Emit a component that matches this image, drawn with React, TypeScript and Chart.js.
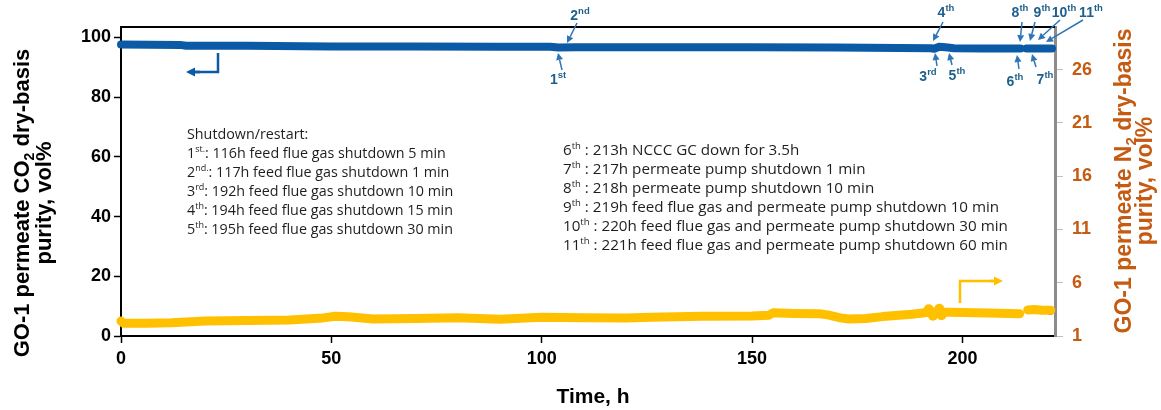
import React, { useEffect, useRef } from "react";
import { Chart, registerables } from "chart.js";
Chart.register(...registerables);

// ---------- data ----------
const co2Time = [0, 14, 15.5, 30, 50, 70, 90, 102, 104, 108, 130, 150, 170, 185, 192.5, 193.3, 194.5, 196, 198, 205, 213.8, 214.5, 215.2, 218, 221.3];
const co2Purity = [97.6, 97.5, 97.2, 97.2, 97.0, 97.0, 96.9, 96.9, 96.6, 96.7, 96.7, 96.7, 96.6, 96.5, 96.4, 96.2, 96.9, 96.7, 96.4, 96.3, 96.3, null, 96.3, 96.3, 96.3];

const n2Time = [0, 0.6, 6, 12, 20, 30, 40, 48, 51, 54, 60, 70, 80, 90, 100, 110, 120, 126, 138, 150, 154, 155, 160, 166, 168, 171, 173, 177, 181, 188, 192, 194, 200, 206, 213.6, 214.5, 215.5, 217, 219, 221];
const n2Purity = [2.4, 2.2, 2.2, 2.25, 2.4, 2.45, 2.5, 2.7, 2.85, 2.8, 2.6, 2.65, 2.72, 2.58, 2.75, 2.72, 2.7, 2.75, 2.85, 2.88, 2.95, 3.18, 3.12, 3.08, 2.98, 2.7, 2.6, 2.65, 2.82, 3.05, 3.22, 3.25, 3.2, 3.15, 3.08, null, 3.45, 3.48, 3.42, 3.42];

const n2BlobTime = [192, 193, 194.5, 195];
const n2BlobValue = [3.5, 2.9, 3.55, 2.95];

const n2DotTime = [0, 192.8, 193.8, 213.6, 217.5, 220.8, 220.9];
const n2DotValue = [2.5, 3.4, 3.35, 3.08, 3.35, 3.5, 3.25];

const xTicks = [0, 50, 100, 150, 200];
const leftTicks = [0, 20, 40, 60, 80, 100];
const rightTicks = [1, 6, 11, 16, 21, 26];

const notesLeftTitle = "Shutdown/restart:";
const notesLeft: [string, string, string][] = [
  ["1", "st.", ": 116h feed flue gas shutdown 5 min"],
  ["2", "nd.", ": 117h feed flue gas shutdown 1 min"],
  ["3", "rd", ": 192h feed flue gas shutdown 10 min"],
  ["4", "th", ": 194h feed flue gas shutdown 15 min"],
  ["5", "th", ": 195h feed flue gas shutdown 30 min"],
];
const notesRight: [string, string, string][] = [
  ["6", "th", " : 213h NCCC GC down for 3.5h"],
  ["7", "th", " : 217h permeate pump shutdown 1 min"],
  ["8", "th", " : 218h permeate pump shutdown 10 min"],
  ["9", "th", " : 219h feed flue gas and permeate pump shutdown 10 min"],
  ["10", "th", " : 220h feed flue gas and permeate pump shutdown 30 min"],
  ["11", "th", " : 221h feed flue gas and permeate pump shutdown 60 min"],
];

// event callouts: label number, suffix, label pos, arrow tail, arrow tip (pixels)
const callouts: { n: string; s: string; lx: number; ly: number; tx: number; ty: number; hx: number; hy: number }[] = [
  { n: "1", s: "st", lx: 558, ly: 80, tx: 562, ty: 70, hx: 558, hy: 53 },
  { n: "2", s: "nd", lx: 580, ly: 16, tx: 577, ty: 23, hx: 567, hy: 43 },
  { n: "3", s: "rd", lx: 928, ly: 77, tx: 937, ty: 66, hx: 935, hy: 53 },
  { n: "4", s: "th", lx: 946, ly: 13, tx: 943, ty: 22, hx: 933, hy: 41 },
  { n: "5", s: "th", lx: 957, ly: 76, tx: 952, ty: 65, hx: 949, hy: 53 },
  { n: "6", s: "th", lx: 1015, ly: 82, tx: 1019, ty: 69, hx: 1017, hy: 55 },
  { n: "7", s: "th", lx: 1045, ly: 80, tx: 1036, ty: 67, hx: 1032, hy: 54 },
  { n: "8", s: "th", lx: 1020, ly: 13, tx: 1022, ty: 22, hx: 1020, hy: 42 },
  { n: "9", s: "th", lx: 1042, ly: 13, tx: 1035, ty: 22, hx: 1030, hy: 41 },
  { n: "10", s: "th", lx: 1064, ly: 13, tx: 1060, ty: 20, hx: 1038, hy: 40 },
  { n: "11", s: "th", lx: 1091, ly: 13, tx: 1083, ty: 20, hx: 1046, hy: 42 },
];

const BLUE = "#0B5AA6";
const YELLOW = "#FFC000";
const DARK_ORANGE = "#C55A11";
const LABEL_BLUE = "#1F5F8C";
const ARROW_BLUE = "#2E75B6";
const AXIS_FONT = "'Liberation Sans', Arial, sans-serif";
const NOTE_FONT = "'Open Sans', 'Noto Sans', sans-serif";

function arrow(ctx: CanvasRenderingContext2D, x1: number, y1: number, x2: number, y2: number, color: string, w: number, head: number) {
  const ang = Math.atan2(y2 - y1, x2 - x1);
  const bx = x2 - head * Math.cos(ang);
  const by = y2 - head * Math.sin(ang);
  ctx.save();
  ctx.strokeStyle = color;
  ctx.fillStyle = color;
  ctx.lineWidth = w;
  ctx.beginPath();
  ctx.moveTo(x1, y1);
  ctx.lineTo(bx, by);
  ctx.stroke();
  const hw = head * 0.5;
  ctx.beginPath();
  ctx.moveTo(x2, y2);
  ctx.lineTo(bx - hw * Math.sin(ang), by + hw * Math.cos(ang));
  ctx.lineTo(bx + hw * Math.sin(ang), by - hw * Math.cos(ang));
  ctx.closePath();
  ctx.fill();
  ctx.restore();
}

function supText(ctx: CanvasRenderingContext2D, x: number, y: number, base: string, sup: string, rest: string, size: number, supSize: number, weight: string, family: string, color: string, align: "left" | "center") {
  ctx.save();
  ctx.fillStyle = color;
  ctx.textBaseline = "middle";
  ctx.textAlign = "left";
  const f1 = `${weight} ${size}px ${family}`;
  const f2 = `${weight} ${supSize}px ${family}`;
  ctx.font = f1;
  const w1 = ctx.measureText(base).width;
  const w3 = ctx.measureText(rest).width;
  ctx.font = f2;
  const w2 = ctx.measureText(sup).width;
  let sx = align === "center" ? x - (w1 + w2 + w3) / 2 : x;
  ctx.font = f1;
  ctx.fillText(base, sx, y);
  ctx.font = f2;
  ctx.fillText(sup, sx + w1, y - size * 0.3);
  ctx.font = f1;
  ctx.fillText(rest, sx + w1 + w2, y);
  ctx.restore();
}

function rotatedTitle(ctx: CanvasRenderingContext2D, bx: number, cy: number, parts: [string, boolean][], size: number, color: string) {
  ctx.save();
  ctx.translate(bx, cy);
  ctx.rotate(-Math.PI / 2);
  ctx.fillStyle = color;
  ctx.textBaseline = "alphabetic";
  ctx.textAlign = "left";
  const fMain = `bold ${size}px ${AXIS_FONT}`;
  const fSub = `bold ${Math.round(size * 0.65)}px ${AXIS_FONT}`;
  let total = 0;
  for (const [t, sub] of parts) {
    ctx.font = sub ? fSub : fMain;
    total += ctx.measureText(t).width;
  }
  let x = -total / 2;
  for (const [t, sub] of parts) {
    ctx.font = sub ? fSub : fMain;
    ctx.fillText(t, x, sub ? size * 0.22 : 0);
    x += ctx.measureText(t).width;
  }
  ctx.restore();
}

const decorPlugin = {
  id: "decor",
  afterDraw(chart: any) {
    const ctx: CanvasRenderingContext2D = chart.ctx;
    const a = chart.chartArea;
    // top border
    ctx.save();
    ctx.strokeStyle = "#000";
    ctx.lineWidth = 2;
    ctx.beginPath();
    ctx.moveTo(a.left, a.top);
    ctx.lineTo(a.right, a.top);
    ctx.stroke();
    ctx.restore();

    // axis titles
    rotatedTitle(ctx, 29, 203, [["GO-1 permeate CO", false], ["2", true], [" dry-basis", false]], 22, "#000");
    rotatedTitle(ctx, 51, 203, [["purity, vol%", false]], 22, "#000");
    rotatedTitle(ctx, 1131, 181, [["GO-1 permeate N", false], ["2", true], [" dry-basis", false]], 23, DARK_ORANGE);
    rotatedTitle(ctx, 1152, 181, [["purity, vol%", false]], 23, DARK_ORANGE);
    ctx.save();
    ctx.font = `bold 21px ${AXIS_FONT}`;
    ctx.fillStyle = "#000";
    ctx.textAlign = "center";
    ctx.textBaseline = "middle";
    ctx.fillText("Time, h", 593, 397);
    ctx.restore();

    // notes
    ctx.save();
    ctx.font = `14.3px ${NOTE_FONT}`;
    ctx.fillStyle = "#1e1e1e";
    ctx.textBaseline = "middle";
    ctx.fillText(notesLeftTitle, 187, 135);
    ctx.restore();
    notesLeft.forEach((l, i) => supText(ctx, 187, 154 + i * 19, l[0], l[1], l[2], 14.3, 9, "normal", NOTE_FONT, "#1e1e1e", "left"));
    notesRight.forEach((l, i) => supText(ctx, 563, 151 + i * 19, l[0], l[1], l[2], 15.2, 9.5, "normal", NOTE_FONT, "#1e1e1e", "left"));

    // callouts
    callouts.forEach((c) => {
      supText(ctx, c.lx, c.ly, c.n, c.s, "", 14, 9.5, "bold", AXIS_FONT, LABEL_BLUE, "center");
      arrow(ctx, c.tx, c.ty, c.hx, c.hy, ARROW_BLUE, 1.5, 7);
    });

    // bent arrows
    ctx.save();
    ctx.strokeStyle = BLUE;
    ctx.lineWidth = 2.5;
    ctx.beginPath();
    ctx.moveTo(218, 53);
    ctx.lineTo(218, 72);
    ctx.lineTo(194, 72);
    ctx.stroke();
    ctx.restore();
    arrow(ctx, 200, 72, 186, 72, BLUE, 2.5, 9);

    ctx.save();
    ctx.strokeStyle = YELLOW;
    ctx.lineWidth = 2.5;
    ctx.beginPath();
    ctx.moveTo(960, 303);
    ctx.lineTo(960, 281);
    ctx.lineTo(995, 281);
    ctx.stroke();
    ctx.restore();
    arrow(ctx, 990, 281, 1003, 281, YELLOW, 2.5, 9);
  },
};

export default function App() {
  const ref = useRef<HTMLCanvasElement>(null);
  useEffect(() => {
    if (!ref.current) return;
    const pts = (xs: number[], ys: (number | null)[]) => xs.map((x, i) => ({ x, y: ys[i] }));
    const chart = new Chart(ref.current, {
      type: "line",
      data: {
        datasets: [
          {
            label: "N2",
            data: pts(n2Time, n2Purity) as any,
            yAxisID: "y1",
            borderColor: YELLOW,
            borderWidth: 9,
            pointRadius: 0,
            borderCapStyle: "round",
            borderJoinStyle: "round",
            spanGaps: false,
            clip: false as any,
          },
          {
            label: "N2 blobs",
            data: pts(n2BlobTime, n2BlobValue) as any,
            yAxisID: "y1",
            showLine: false,
            pointRadius: 5,
            pointBackgroundColor: YELLOW,
            pointBorderWidth: 0,
            clip: false as any,
          },
          {
            label: "N2 dots",
            data: pts(n2DotTime, n2DotValue) as any,
            yAxisID: "y1",
            showLine: false,
            pointRadius: 3,
            pointBackgroundColor: DARK_ORANGE,
            pointBorderWidth: 0,
            clip: false as any,
          },
          {
            label: "CO2",
            data: pts(co2Time, co2Purity) as any,
            yAxisID: "y",
            borderColor: BLUE,
            borderWidth: 8,
            pointRadius: 0,
            borderCapStyle: "round",
            borderJoinStyle: "round",
            spanGaps: false,
            clip: false as any,
          },
        ],
      },
      options: {
        responsive: false,
        animation: false,
        events: [],
        layout: { padding: { top: 27, left: 0, right: 0, bottom: 0 } },
        plugins: { legend: { display: false }, tooltip: { enabled: false } },
        scales: {
          x: {
            type: "linear",
            min: 0,
            max: 222,
            afterFit: (s: any) => { s.height = 74; },
            afterBuildTicks: (s: any) => { s.ticks = xTicks.map((v) => ({ value: v })); },
            ticks: { color: "#000", font: { family: AXIS_FONT, size: 18, weight: "bold" }, padding: 5, maxRotation: 0 },
            grid: { drawOnChartArea: false, drawTicks: true, tickLength: 7, color: "#000", tickWidth: 1.5 },
            border: { color: "#000", width: 2 },
          },
          y: {
            type: "linear",
            position: "left",
            min: 0,
            max: 103.5,
            afterFit: (s: any) => { s.width = 121; },
            afterBuildTicks: (s: any) => { s.ticks = leftTicks.map((v) => ({ value: v })); },
            ticks: { color: "#000", font: { family: AXIS_FONT, size: 18, weight: "bold" }, padding: 3 },
            grid: { drawOnChartArea: false, drawTicks: true, tickLength: 7, color: "#000", tickWidth: 1.5 },
            border: { color: "#000", width: 2 },
          },
          y1: {
            type: "linear",
            position: "right",
            min: 1,
            max: 30,
            afterFit: (s: any) => { s.width = 106; },
            afterBuildTicks: (s: any) => { s.ticks = rightTicks.map((v) => ({ value: v })); },
            ticks: { color: DARK_ORANGE, font: { family: AXIS_FONT, size: 18, weight: "bold" }, padding: 9 },
            grid: { drawOnChartArea: false, drawTicks: true, tickLength: 8, color: "#BFBFBF", tickWidth: 1 },
            border: { color: "#8C8C8C", width: 3 },
          },
        },
      },
      plugins: [decorPlugin],
    });
    return () => chart.destroy();
  }, []);
  return (
    <canvas
      ref={ref}
      width={1161}
      height={410}
      style={{ position: "absolute", left: 0, top: 0, width: 1161, height: 410, background: "#fff" }}
    />
  );
}
